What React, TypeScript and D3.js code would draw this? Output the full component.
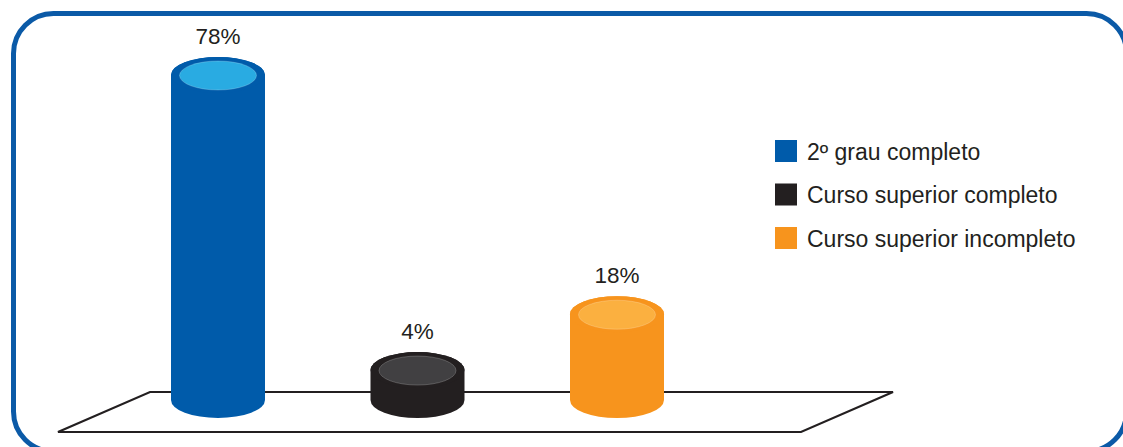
import React from "react";
import * as d3 from "d3";

const categories = ["2º grau completo", "Curso superior completo", "Curso superior incompleto"];
const values = [78, 4, 18];
const valueLabels = ["78%", "4%", "18%"];
const sideColors = ["#005baa", "#231f20", "#f7941d"];
const topColors = ["#29abe2", "#414042", "#fbb040"];

const W = 1123;
const H = 447;

export default function App() {
  const x = d3.scalePoint<string>().domain(categories).range([218, 617]);
  const y = d3.scaleLinear().domain([0, 78]).range([386, 75]);
  const baseY = 400;
  const rx = 47;
  const ry = 18;
  const font = "'Liberation Sans', Arial, Helvetica, sans-serif";

  const floor = d3.line()([
    [150, 392],
    [893, 392],
    [801, 432],
    [58, 432],
  ]) + "Z";

  return (
    <svg width={W} height={H} style={{ position: "absolute", left: 0, top: 0, background: "#fff" }}>
      <rect x={13.5} y={13.5} width={1113} height={438} rx={40} ry={40} fill="#fff" stroke="#0b5aa7" strokeWidth={5} />
      <path d={floor} fill="none" stroke="#231f20" strokeWidth={2.2} strokeLinejoin="miter" />
      {categories.map((c, i) => {
        const cx = x(c)!;
        const top = y(values[i]);
        const side = `M${cx - rx},${top} L${cx - rx},${baseY} A${rx},${ry} 0 0 0 ${cx + rx},${baseY} L${cx + rx},${top} A${rx},${ry} 0 0 0 ${cx - rx},${top} Z`;
        return (
          <g key={c}>
            <path d={side} fill={sideColors[i]} />
            <ellipse cx={cx} cy={top} rx={rx} ry={ry} fill={sideColors[i]} />
            <ellipse cx={cx} cy={top + 0.5} rx={38.5} ry={14.5} fill={topColors[i]} stroke="rgba(255,255,255,0.25)" strokeWidth={0.8} />
            <text x={cx} y={top - ry - 13} textAnchor="middle" fontFamily={font} fontSize={22.5} fill="#231f20">
              {valueLabels[i]}
            </text>
          </g>
        );
      })}
      {categories.map((c, i) => {
        const sy = 140 + i * 43.5;
        return (
          <g key={"l" + c}>
            <rect x={775} y={sy} width={22} height={22} fill={sideColors[i]} />
            <text x={807} y={sy + 19.5} fontFamily={font} fontSize={23} fill="#231f20">
              {c}
            </text>
          </g>
        );
      })}
    </svg>
  );
}
